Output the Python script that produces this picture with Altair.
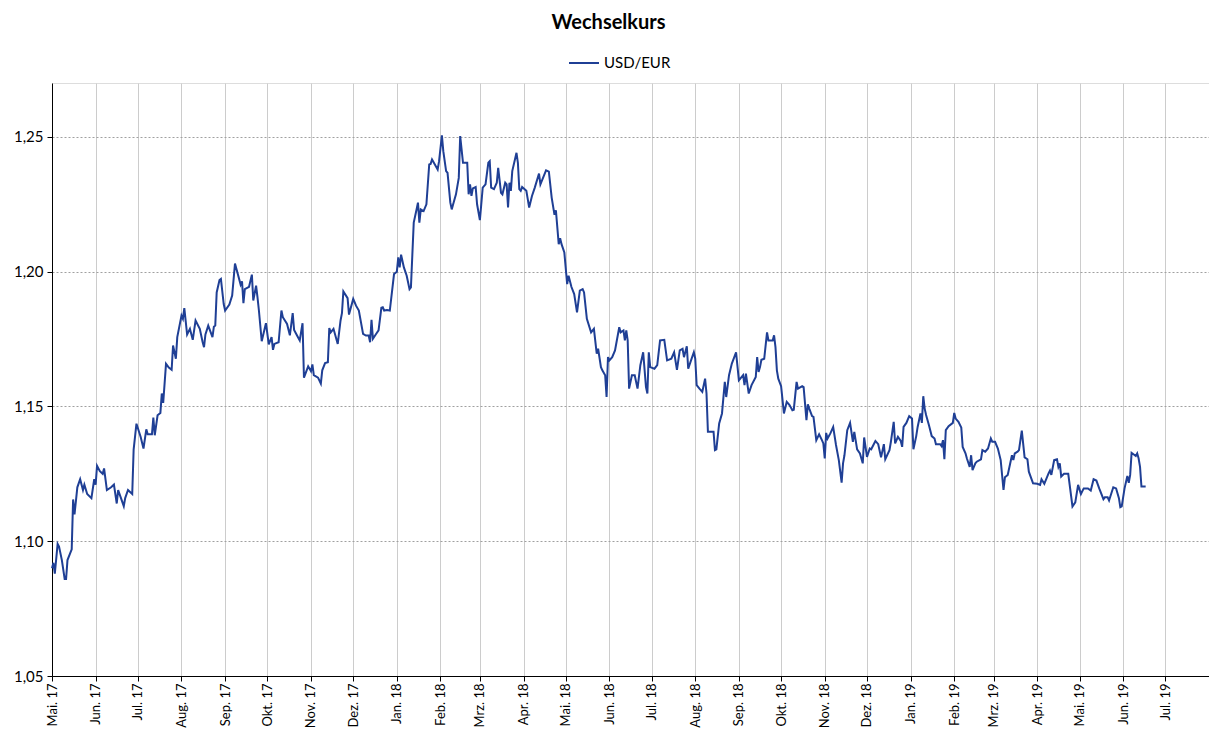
import altair as alt
import pandas as pd

series_name = "USD/EUR"
chart_title = "Wechselkurs"
month_names = ["Jan", "Feb", "Mrz", "Apr", "Mai", "Jun", "Jul", "Aug", "Sep", "Okt", "Nov", "Dez"]
y_ticks = [1.05, 1.10, 1.15, 1.20, 1.25]

dates_2017 = [
    "2017-05-01", "2017-05-02", "2017-05-03", "2017-05-05", "2017-05-06", "2017-05-08", "2017-05-10",
    "2017-05-11", "2017-05-12", "2017-05-15", "2017-05-16", "2017-05-17", "2017-05-18", "2017-05-19",
    "2017-05-21", "2017-05-23", "2017-05-24", "2017-05-26", "2017-05-29", "2017-05-31", "2017-06-01",
    "2017-06-02", "2017-06-04", "2017-06-06", "2017-06-07", "2017-06-09", "2017-06-12", "2017-06-14",
    "2017-06-16", "2017-06-17", "2017-06-18", "2017-06-21", "2017-06-22", "2017-06-24", "2017-06-27",
    "2017-06-28", "2017-06-30",
    "2017-07-03", "2017-07-05", "2017-07-07", "2017-07-08", "2017-07-11", "2017-07-12", "2017-07-13",
    "2017-07-15", "2017-07-17", "2017-07-18", "2017-07-19", "2017-07-21", "2017-07-23", "2017-07-25",
    "2017-07-26", "2017-07-28", "2017-07-29", "2017-08-01", "2017-08-02", "2017-08-03", "2017-08-05",
    "2017-08-07", "2017-08-09", "2017-08-11", "2017-08-14", "2017-08-16", "2017-08-17", "2017-08-18",
    "2017-08-20", "2017-08-23", "2017-08-24", "2017-08-25", "2017-08-26", "2017-08-28", "2017-08-29",
    "2017-08-31", "2017-09-01", "2017-09-04",
    "2017-09-06", "2017-09-08", "2017-09-10", "2017-09-12", "2017-09-13", "2017-09-14", "2017-09-15",
    "2017-09-18", "2017-09-20", "2017-09-21", "2017-09-23", "2017-09-24", "2017-09-25", "2017-09-27",
    "2017-09-30", "2017-10-02", "2017-10-04", "2017-10-05", "2017-10-06", "2017-10-09", "2017-10-11",
    "2017-10-12", "2017-10-15", "2017-10-17", "2017-10-19", "2017-10-20", "2017-10-22", "2017-10-24",
    "2017-10-26", "2017-10-27", "2017-10-30", "2017-11-01", "2017-11-02", "2017-11-03", "2017-11-06",
    "2017-11-08",
    "2017-11-09", "2017-11-11", "2017-11-13", "2017-11-14", "2017-11-15", "2017-11-17", "2017-11-20",
    "2017-11-22", "2017-11-23", "2017-11-24", "2017-11-27", "2017-11-28", "2017-12-01", "2017-12-03",
    "2017-12-05", "2017-12-08", "2017-12-10", "2017-12-12", "2017-12-13", "2017-12-14", "2017-12-15",
    "2017-12-17", "2017-12-19", "2017-12-21", "2017-12-22", "2017-12-23", "2017-12-25", "2017-12-27",
    "2017-12-30",
]
values_2017 = [
    1.090, 1.092, 1.088, 1.099, 1.098, 1.093, 1.086,
    1.086, 1.093, 1.097, 1.1155, 1.110, 1.115, 1.120,
    1.123, 1.119, 1.121, 1.1175, 1.116, 1.123, 1.121,
    1.128, 1.126, 1.125, 1.127, 1.119, 1.120, 1.121,
    1.114, 1.119, 1.1175, 1.113, 1.116, 1.119, 1.1175,
    1.134, 1.1436,
    1.1387, 1.1344, 1.1415, 1.1397, 1.1397, 1.1459, 1.1393,
    1.1467, 1.1476, 1.1548, 1.1513, 1.1658, 1.1644, 1.1636,
    1.1726, 1.1677, 1.1757, 1.1837, 1.1825, 1.1865, 1.1767,
    1.1788, 1.1747, 1.1819, 1.1788, 1.1739, 1.1720, 1.1767,
    1.1800, 1.1757, 1.1796, 1.1800, 1.1923, 1.1969, 1.1973,
    1.1880, 1.1856, 1.1878,
    1.1911, 1.2030, 1.1991, 1.1952, 1.1964, 1.1883, 1.1935,
    1.1944, 1.1989, 1.1893, 1.1948, 1.1905, 1.1856, 1.1742,
    1.1809, 1.1730, 1.1757, 1.1710, 1.1732, 1.1738, 1.1856,
    1.1831, 1.1806, 1.1764, 1.1846, 1.1784, 1.1764, 1.1745,
    1.1809, 1.1607, 1.1649, 1.1631, 1.1656, 1.1616, 1.1607,
    1.1585,
    1.1634, 1.1661, 1.1664, 1.1791, 1.1775, 1.1788, 1.1732,
    1.1819, 1.1846, 1.1927, 1.1902, 1.1841, 1.1899, 1.1874,
    1.1856, 1.1769, 1.1763, 1.1763, 1.1738, 1.1821, 1.1751,
    1.1767, 1.1782, 1.1866, 1.1868, 1.1856, 1.1858, 1.1856,
    1.1991,
]

dates_2018 = [
    "2018-01-01", "2018-01-02", "2018-01-03", "2018-01-04", "2018-01-06", "2018-01-08", "2018-01-10",
    "2018-01-11", "2018-01-13",
    "2018-01-15", "2018-01-16", "2018-01-17", "2018-01-18", "2018-01-20", "2018-01-22", "2018-01-24",
    "2018-01-25", "2018-01-26", "2018-01-28", "2018-01-30", "2018-01-31", "2018-02-02", "2018-02-03",
    "2018-02-05", "2018-02-06", "2018-02-08", "2018-02-09", "2018-02-10", "2018-02-12", "2018-02-14",
    "2018-02-15", "2018-02-17", "2018-02-20", "2018-02-21", "2018-02-22", "2018-02-23", "2018-02-24",
    "2018-02-26", "2018-02-27", "2018-03-01", "2018-03-03", "2018-03-05", "2018-03-07", "2018-03-08",
    "2018-03-09", "2018-03-11", "2018-03-13",
    "2018-03-14", "2018-03-16", "2018-03-17", "2018-03-19", "2018-03-20", "2018-03-21", "2018-03-22",
    "2018-03-23", "2018-03-24", "2018-03-27", "2018-03-28", "2018-03-29", "2018-03-30", "2018-03-31",
    "2018-04-03", "2018-04-04", "2018-04-05", "2018-04-07", "2018-04-09", "2018-04-12", "2018-04-13",
    "2018-04-17", "2018-04-19", "2018-04-21", "2018-04-23", "2018-04-24", "2018-04-26", "2018-04-27",
    "2018-04-28", "2018-04-30", "2018-05-02", "2018-05-03", "2018-05-05", "2018-05-07", "2018-05-09",
    "2018-05-11", "2018-05-13", "2018-05-14", "2018-05-16", "2018-05-19", "2018-05-21",
    "2018-05-23", "2018-05-24", "2018-05-26", "2018-05-27", "2018-05-29", "2018-05-30", "2018-05-31",
    "2018-06-01", "2018-06-03", "2018-06-05", "2018-06-08", "2018-06-09", "2018-06-11", "2018-06-12",
    "2018-06-13", "2018-06-14", "2018-06-15", "2018-06-17", "2018-06-19", "2018-06-21", "2018-06-23",
    "2018-06-25", "2018-06-27", "2018-06-28", "2018-06-29", "2018-06-30", "2018-07-03", "2018-07-05",
    "2018-07-07", "2018-07-10", "2018-07-12", "2018-07-15", "2018-07-17", "2018-07-19", "2018-07-21",
    "2018-07-23", "2018-07-24",
    "2018-07-26", "2018-07-27", "2018-07-29", "2018-07-31", "2018-08-01", "2018-08-02", "2018-08-04",
    "2018-08-06", "2018-08-08", "2018-08-09", "2018-08-10", "2018-08-13", "2018-08-14", "2018-08-15",
    "2018-08-16", "2018-08-18", "2018-08-20", "2018-08-22", "2018-08-23", "2018-08-25", "2018-08-27",
    "2018-08-30", "2018-09-01", "2018-09-02", "2018-09-04", "2018-09-05", "2018-09-06", "2018-09-08",
    "2018-09-10", "2018-09-13", "2018-09-14", "2018-09-15", "2018-09-16", "2018-09-17", "2018-09-19",
    "2018-09-21", "2018-09-22", "2018-09-25", "2018-09-26",
    "2018-09-27", "2018-09-28", "2018-09-29", "2018-10-01", "2018-10-03", "2018-10-05", "2018-10-07",
    "2018-10-09", "2018-10-10", "2018-10-12", "2018-10-13", "2018-10-16", "2018-10-17", "2018-10-19",
    "2018-10-20", "2018-10-21", "2018-10-23", "2018-10-24", "2018-10-26", "2018-10-28", "2018-10-30",
    "2018-10-31", "2018-11-01", "2018-11-02", "2018-11-03", "2018-11-05", "2018-11-07", "2018-11-09",
    "2018-11-11", "2018-11-13", "2018-11-14", "2018-11-15", "2018-11-17", "2018-11-19", "2018-11-21",
    "2018-11-22", "2018-11-24", "2018-11-26", "2018-11-28", "2018-11-29",
    "2018-12-01", "2018-12-03", "2018-12-04", "2018-12-07", "2018-12-09", "2018-12-11", "2018-12-13",
    "2018-12-14", "2018-12-17", "2018-12-18", "2018-12-20", "2018-12-21", "2018-12-23", "2018-12-25",
    "2018-12-26", "2018-12-27", "2018-12-29", "2018-12-31",
]
values_2018 = [
    1.2000, 1.2053, 1.2016, 1.2063, 1.2016, 1.1985, 1.1935,
    1.1942, 1.2182,
    1.2231, 1.2256, 1.2182, 1.2231, 1.2225, 1.2250, 1.2398,
    1.2400, 1.2416, 1.2398, 1.2379, 1.2410, 1.2506, 1.2447,
    1.2373, 1.2367, 1.2256, 1.2231, 1.2250, 1.2287, 1.2348,
    1.2503, 1.2404, 1.2404, 1.2287, 1.2324, 1.2281, 1.2309,
    1.2314, 1.2250, 1.2191, 1.2312, 1.2324, 1.2404, 1.2410,
    1.2312, 1.2306, 1.2330,
    1.2385, 1.2293, 1.2287, 1.2330, 1.2324, 1.2238, 1.2330,
    1.2300, 1.2373, 1.2441, 1.2404, 1.2306, 1.2300, 1.2314,
    1.2300, 1.2269, 1.2238, 1.2281, 1.2312, 1.2364, 1.2324,
    1.2376, 1.2371, 1.2275, 1.2211, 1.2228, 1.2102, 1.2124,
    1.2102, 1.2071, 1.1954, 1.1985, 1.1944, 1.1917, 1.1849,
    1.1930, 1.1935, 1.1923, 1.1825, 1.1775, 1.1788,
    1.1696, 1.1714, 1.1646, 1.1634, 1.1616, 1.1535, 1.1683,
    1.1671, 1.1683, 1.1708, 1.1794, 1.1775, 1.1782, 1.1745,
    1.1782, 1.1745, 1.1566, 1.1616, 1.1616, 1.1566, 1.1653,
    1.1701, 1.1572, 1.1548, 1.1701, 1.1646, 1.1640, 1.1653,
    1.1745, 1.1747, 1.1671, 1.1677, 1.1701, 1.1636, 1.1708,
    1.1714, 1.1683,
    1.1723, 1.1640, 1.1671, 1.1701, 1.1677, 1.1579, 1.1566,
    1.1554, 1.1603, 1.1548, 1.1406, 1.1406, 1.1406, 1.1338,
    1.1341, 1.1437, 1.1474, 1.1591, 1.1535, 1.1616, 1.1659,
    1.1701, 1.1597, 1.1603, 1.1616, 1.1579, 1.1622, 1.1548,
    1.1579, 1.1609, 1.1683, 1.1628, 1.1646, 1.1673, 1.1677,
    1.1775, 1.1745, 1.1745, 1.1764,
    1.1720, 1.1634, 1.1603, 1.1575, 1.1474, 1.1517, 1.1505,
    1.1486, 1.1488, 1.1591, 1.1566, 1.1575, 1.1572, 1.1449,
    1.1508, 1.1492, 1.1464, 1.1461, 1.1375, 1.1397, 1.1375,
    1.1363, 1.1307, 1.1402, 1.1381, 1.1400, 1.1424, 1.1357,
    1.1301, 1.1217, 1.1289, 1.1319, 1.1412, 1.1439, 1.1369,
    1.1406, 1.1341, 1.1326, 1.1289, 1.1385,
    1.1313, 1.1344, 1.1341, 1.1372, 1.1360, 1.1311, 1.1360,
    1.1304, 1.1338, 1.1369, 1.1443, 1.1363, 1.1387, 1.1372,
    1.1350, 1.1424, 1.1439, 1.1464,
]

dates_2019 = [
    "2019-01-02", "2019-01-03", "2019-01-05", "2019-01-06", "2019-01-08", "2019-01-09", "2019-01-10",
    "2019-01-11", "2019-01-12", "2019-01-14", "2019-01-16", "2019-01-18", "2019-01-19", "2019-01-22",
    "2019-01-23", "2019-01-24", "2019-01-25", "2019-01-26", "2019-01-28", "2019-01-31", "2019-02-01",
    "2019-02-02",
    "2019-02-04", "2019-02-06", "2019-02-07", "2019-02-09", "2019-02-10", "2019-02-12", "2019-02-13",
    "2019-02-14", "2019-02-16", "2019-02-17", "2019-02-20", "2019-02-21", "2019-02-23", "2019-02-25",
    "2019-02-27", "2019-02-28", "2019-03-02", "2019-03-04", "2019-03-06", "2019-03-08", "2019-03-09",
    "2019-03-11", "2019-03-14", "2019-03-15", "2019-03-16", "2019-03-18", "2019-03-19", "2019-03-21",
    "2019-03-23", "2019-03-25", "2019-03-26", "2019-03-29", "2019-04-01", "2019-04-03", "2019-04-04",
    "2019-04-06",
    "2019-04-09", "2019-04-10", "2019-04-11", "2019-04-13", "2019-04-15", "2019-04-16", "2019-04-17",
    "2019-04-18", "2019-04-20", "2019-04-23", "2019-04-26", "2019-04-28", "2019-04-30", "2019-05-02",
    "2019-05-04", "2019-05-07", "2019-05-09", "2019-05-11", "2019-05-13", "2019-05-15", "2019-05-18",
    "2019-05-19", "2019-05-21", "2019-05-22", "2019-05-25", "2019-05-27", "2019-05-29", "2019-05-30",
    "2019-05-31", "2019-06-02", "2019-06-04", "2019-06-05", "2019-06-06", "2019-06-07", "2019-06-10",
    "2019-06-11", "2019-06-12", "2019-06-13", "2019-06-14", "2019-06-17",
]
values_2019 = [
    1.1455, 1.1341, 1.1390, 1.1424, 1.1474, 1.1439, 1.1538,
    1.1492, 1.1468, 1.1431, 1.1390, 1.1381, 1.1360, 1.1360,
    1.1353, 1.1375, 1.1304, 1.1412, 1.1427, 1.1439, 1.1476,
    1.1455,
    1.1443, 1.1422, 1.1350, 1.1326, 1.1307, 1.1276, 1.1319,
    1.1264, 1.1289, 1.1295, 1.1304, 1.1338, 1.1332, 1.1344,
    1.1381, 1.1369, 1.1369, 1.1344, 1.1301, 1.1190, 1.1237,
    1.1246, 1.1319, 1.1301, 1.1326, 1.1332, 1.1338, 1.1410,
    1.1311, 1.1304, 1.1258, 1.1215, 1.1213, 1.1209, 1.1230,
    1.1213,
    1.1252, 1.1262, 1.1246, 1.1301, 1.1304, 1.1276, 1.1289,
    1.1240, 1.1250, 1.1250, 1.1129, 1.1144, 1.1209, 1.1175,
    1.1196, 1.1196, 1.1188, 1.1230, 1.1225, 1.1196, 1.1156,
    1.1163, 1.1163, 1.1151, 1.1200, 1.1196, 1.1160, 1.1126,
    1.1129, 1.1196, 1.1242, 1.1217, 1.1246, 1.1328, 1.1316,
    1.1326, 1.1307, 1.1276, 1.1203, 1.1203,
]

df = pd.DataFrame({
    "Datum": pd.to_datetime(dates_2017 + dates_2018 + dates_2019),
    "Kurs": values_2017 + values_2018 + values_2019,
    "Serie": series_name,
})

names_js = "[" + ",".join("'%s'" % m for m in month_names) + "]"
x_label_expr = (
    "(year(datum.value) == 2019 && month(datum.value) == 7) ? '' : "
    + names_js + "[month(datum.value)] + '. ' + timeFormat(datum.value, '%y')"
)
y_label_expr = "replace(format(datum.value, '.2f'), '.', ',')"

line_color = "#1f3f95"

chart = alt.Chart(df).mark_line(strokeWidth=2, interpolate="linear").encode(
    x=alt.X(
        "Datum:T",
        scale=alt.Scale(domain=[alt.DateTime(year=2017, month=5, date=1),
                                alt.DateTime(year=2019, month=8, date=1)]),
        axis=alt.Axis(
            title=None,
            tickCount=alt.TimeIntervalStep(interval="month", step=1),
            labelExpr=x_label_expr,
            labelAngle=270,
            labelOverlap=False,
            labelFont="Lato",
            labelFontSize=13,
            labelColor="#000000",
            labelPadding=2,
            grid=True,
            gridColor="#cccccc",
            gridWidth=1,
            domainColor="#000000",
            tickColor="#000000",
            tickSize=5,
        ),
    ),
    y=alt.Y(
        "Kurs:Q",
        scale=alt.Scale(domain=[1.05, 1.27], nice=False, zero=False),
        axis=alt.Axis(
            title=None,
            values=y_ticks,
            labelExpr=y_label_expr,
            labelFont="Lato",
            labelFontSize=15,
            labelColor="#000000",
            labelPadding=4,
            grid=True,
            gridColor="#a0a0a0",
            gridDash=[2, 2],
            domainColor="#000000",
            tickColor="#000000",
            tickSize=5,
        ),
    ),
    color=alt.Color(
        "Serie:N",
        scale=alt.Scale(range=[line_color]),
        legend=alt.Legend(
            title=None,
            orient="none",
            legendX=516,
            legendY=-36,
            symbolType="stroke",
            symbolSize=900,
            symbolStrokeWidth=2,
            labelFont="Lato",
            labelFontSize=15,
            labelColor="#000000",
            labelOffset=4,
        ),
    ),
).properties(
    width=1157,
    height=593,
    autosize="none",
    padding={"left": 44, "top": 75, "right": 0, "bottom": 52},
    title=alt.Title(
        chart_title,
        font="Lato",
        fontSize=20,
        fontWeight="bold",
        color="#000000",
        anchor="middle",
        dx=-22,
        offset=14,
    ),
).configure_view(
    stroke=None
).configure(
    font="Lato"
)

chart.save("out.html", embed_options={"renderer": "svg", "actions": False})
